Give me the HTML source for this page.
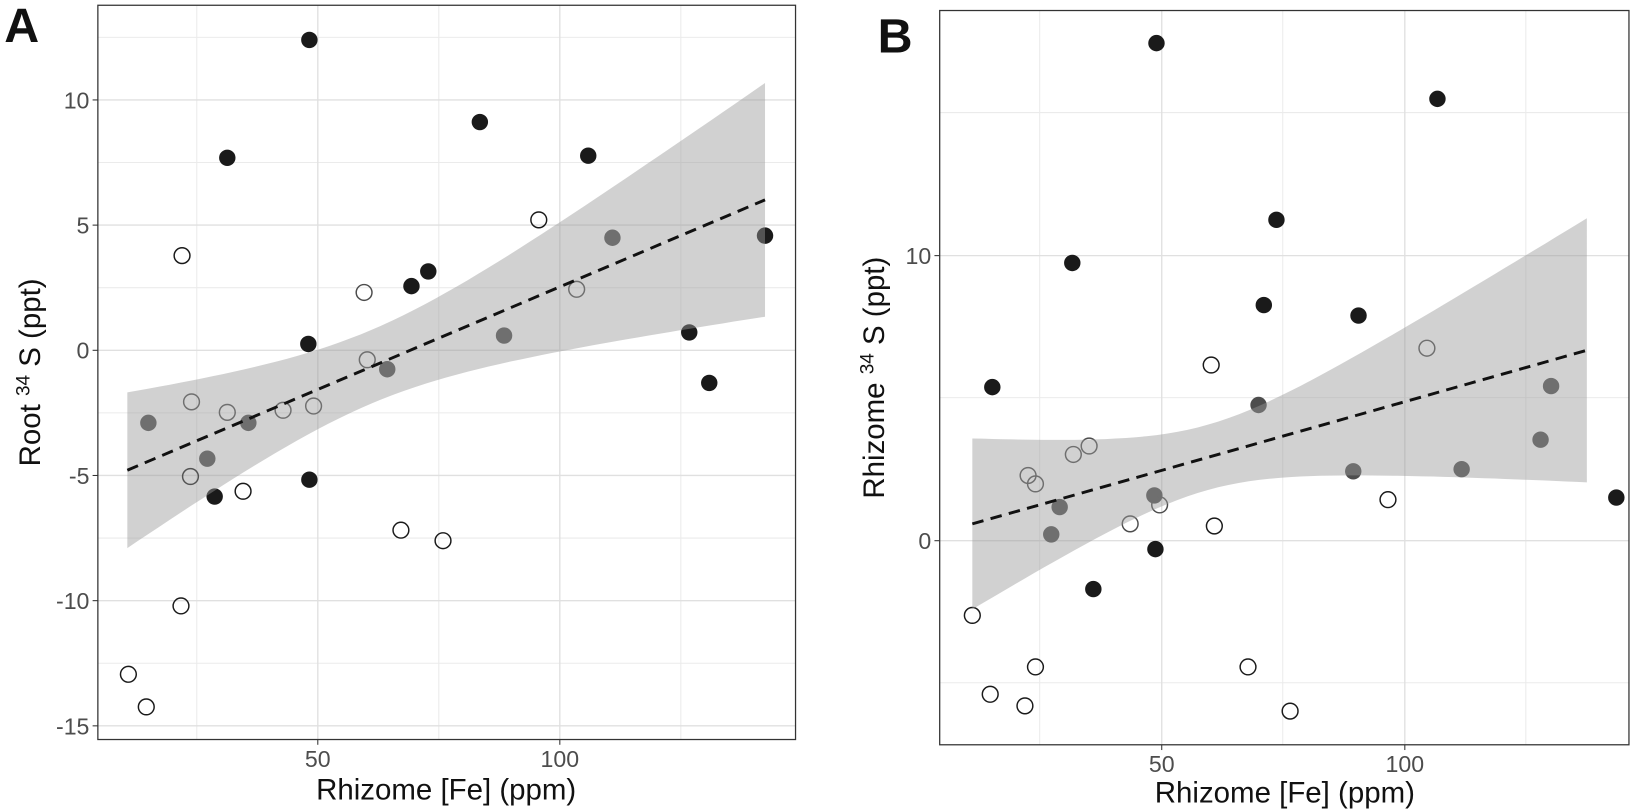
<!DOCTYPE html>
<html><head><meta charset="utf-8"><style>
html,body{margin:0;padding:0;background:#fff}
svg{display:block}
text{font-family:"Liberation Sans","DejaVu Sans",sans-serif}
</style></head><body>
<svg id="s" width="1650" height="810" viewBox="0 0 1568 770" preserveAspectRatio="none" xmlns="http://www.w3.org/2000/svg">
<g id="A"></g><g id="B"></g>
<text x="4" y="40" font-size="46" font-weight="bold" fill="#111">A</text>
<text x="834" y="50" font-size="46" font-weight="bold" fill="#111">B</text>
<text x="424" y="760" font-size="28" text-anchor="middle" fill="#111">Rhizome [Fe] (ppm)</text>
<text x="1221" y="763" font-size="28" text-anchor="middle" fill="#111">Rhizome [Fe] (ppm)</text>
<text transform="translate(38,354) rotate(-90)" font-size="28" text-anchor="middle" fill="#111">Root <tspan font-size="18" dy="-10">34</tspan><tspan dy="10"> S (ppt)</tspan></text>
<text transform="translate(840,359) rotate(-90)" font-size="28" text-anchor="middle" fill="#111">Rhizome <tspan font-size="18" dy="-10">34</tspan><tspan dy="10"> S (ppt)</tspan></text>
</svg>
<script>
const NS="http://www.w3.org/2000/svg";
function el(p,t,a){const e=document.createElementNS(NS,t);for(const k in a)e.setAttribute(k,a[k]);p.appendChild(e);return e;}
function panel(g,o){
 const [L,T,R,Bm]=o.box;
 o.minY.forEach(y=>el(g,'line',{x1:L,x2:R,y1:y,y2:y,stroke:'#ebebeb','stroke-width':1}));
 o.minX.forEach(x=>el(g,'line',{x1:x,x2:x,y1:T,y2:Bm,stroke:'#ebebeb','stroke-width':1}));
 o.majY.forEach(([y,l])=>{el(g,'line',{x1:L,x2:R,y1:y,y2:y,stroke:'#e0e0e0','stroke-width':1.3});
   el(g,'line',{x1:L-5,x2:L,y1:y,y2:y,stroke:'#333','stroke-width':1});
   const t=el(g,'text',{x:L-8,y:y+8,'font-size':22,'text-anchor':'end',fill:'#4d4d4d'});t.textContent=l;});
 o.majX.forEach(([x,l])=>{el(g,'line',{x1:x,x2:x,y1:T,y2:Bm,stroke:'#e0e0e0','stroke-width':1.3});
   el(g,'line',{x1:x,x2:x,y1:Bm,y2:Bm+5,stroke:'#333','stroke-width':1});
   const t=el(g,'text',{x:x,y:Bm+26,'font-size':22,'text-anchor':'middle',fill:'#4d4d4d'});t.textContent=l;});
 o.black.forEach(([x,y])=>el(g,'circle',{cx:x,cy:y,r:7.8,fill:'#1a1a1a'}));
 o.dark.forEach(([x,y])=>el(g,'circle',{cx:x,cy:y,r:7.8,fill:'#4d4d4d'}));
 o.openB.forEach(([x,y])=>el(g,'circle',{cx:x,cy:y,r:7.5,fill:'none',stroke:'#1a1a1a','stroke-width':1.4}));
 o.openG.forEach(([x,y])=>el(g,'circle',{cx:x,cy:y,r:7.5,fill:'none',stroke:'#4d4d4d','stroke-width':1.4}));
 const [x0,y0,x1,y1]=o.line, a=o.a,c=o.c,b=o.b;
 let up=[],lo=[];
 for(let i=0;i<=60;i++){const x=x0+(x1-x0)*i/60;const yl=y0+(y1-y0)*(x-x0)/(x1-x0);const h=Math.sqrt(a*a+b*b*(x-c)*(x-c));up.push(x.toFixed(1)+','+(yl-h).toFixed(1));lo.unshift(x.toFixed(1)+','+(yl+h).toFixed(1));}
 el(g,'polygon',{points:up.concat(lo).join(' '),fill:'#999',opacity:0.45});
 el(g,'line',{x1:x0,y1:y0,x2:x1,y2:y1,stroke:'#111','stroke-width':2.8,'stroke-dasharray':'11,7'});
 el(g,'rect',{x:L,y:T,width:R-L,height:Bm-T,fill:'none',stroke:'#333','stroke-width':1.2});
}
panel(document.getElementById('A'),{
 box:[93,5,756,703],
 majY:[[95,'10'],[214,'5'],[333,'0'],[452,'-5'],[571,'-10'],[690,'-15']],
 minY:[35.5,154.5,273.5,392.5,511.5,630.5],
 majX:[[302,'50'],[532,'100']], minX:[187,417,647],
 black:[[294,38],[216,150],[456,116],[559,148],[407,258],[391,272],[293,327],[294,456],[204,472],[655,316],[674,364],[727,224]],
 dark:[[141,402],[197,436],[236,402],[368,351],[479,319],[582,226]],
 openB:[[173,243],[512,209],[122,641],[139,672],[172,576],[181,453],[231,467],[381,504],[421,514]],
 openG:[[182,382],[216,392],[269,390],[298,386],[346,278],[349,342],[548,275]],
 line:[121,447,727,190], a:35,c:352.6,b:0.2815
});
panel(document.getElementById('B'),{
 box:[893,10,1548,708],
 majY:[[243,'10'],[514,'0']], minY:[107,378,649],
 majX:[[1104,'50'],[1335,'100']], minX:[988,1219,1450],
 black:[[1099,41],[1366,94],[1213,209],[1019,250],[1201,290],[1291,300],[943,368],[1098,522],[1039,560],[1536,473]],
 dark:[[1196,385],[1474,367],[1464,418],[1389,446],[1286,448],[1007,482],[999,508],[1097,471]],
 openB:[[924,585],[941,660],[984,634],[974,671],[1186,634],[1226,676],[1319,475],[1154,500],[1151,347]],
 openG:[[977,452],[984,460],[1020,432],[1035,424],[1074,498],[1102,480],[1356,331]],
 line:[924,498,1508,333], a:31,c:1146.9,b:0.3368
});
</script>
</body></html>
